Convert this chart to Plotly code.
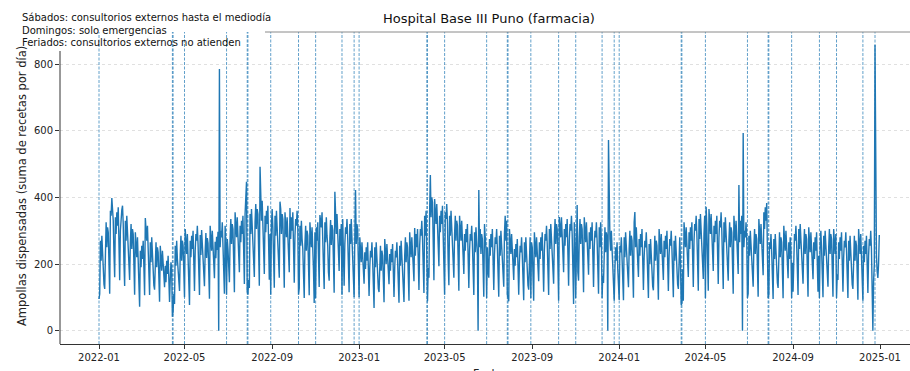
import pandas as pd
import plotly.graph_objects as go

# ---- data ----
start_date = "2022-01-01"
end_date = "2024-12-31"

# daily values: Jan 1-2 2022, then weeks Mon..Sun, then Dec 30-31 2024
values = [
    95, 110,
    # 2022
    270, 210, 285, 230, 200, 139, 125,
    270, 325, 250, 310, 295, 214, 111,
    360, 345, 398, 370, 330, 231, 160,
    340, 290, 355, 315, 370, 240, 151,
    300, 350, 362, 375, 320, 204, 134,
    330, 270, 345, 290, 260, 178, 152,
    265, 320, 245, 305, 290, 210, 108,
    295, 255, 220, 280, 225, 120, 72,
    240, 190, 255, 215, 270, 188, 106,
    338, 290, 270, 315, 260, 166, 107,
    265, 205, 280, 225, 195, 136, 123,
    210, 265, 190, 250, 235, 175, 87,
    255, 215, 180, 240, 185, 137, 130,
    195, 145, 210, 170, 225, 159, 86,
    155, 205, 185, 42, 58, 110, 80,
    255, 195, 270, 215, 185, 130, 119,
    230, 285, 210, 270, 255, 188, 100,
    305, 265, 230, 290, 235, 169, 77,
    270, 220, 285, 245, 300, 207, 119,
    240, 290, 270, 315, 260, 166, 107,
    287, 227, 302, 247, 217, 150, 133,
    238, 293, 218, 278, 263, 193, 96,
    315, 275, 240, 300, 245, 176, 157,
    267, 217, 282, 242, 297, 0, 785,
    250, 300, 280, 325, 270, 172, 111,
    315, 255, 108, 275, 245, 169, 145,
    280, 335, 260, 320, 305, 220, 115,
    355, 315, 280, 340, 285, 202, 175,
    315, 265, 330, 290, 345, 237, 140,
    350, 400, 447, 118, 108, 152, 128,
    350, 290, 365, 310, 280, 191, 161,
    325, 380, 305, 365, 350, 249, 135,
    492, 365, 330, 390, 335, 234, 170,
    345, 295, 360, 320, 375, 256, 153,
    290, 108, 320, 365, 310, 198, 129,
    345, 285, 360, 305, 275, 188, 159,
    387, 365, 290, 350, 335, 240, 129,
    355, 315, 280, 340, 285, 202, 175,
    368, 275, 340, 300, 355, 243, 144,
    285, 335, 315, 360, 305, 108, 127,
    315, 255, 330, 275, 245, 169, 98,
    260, 315, 240, 300, 285, 207, 106,
    325, 285, 250, 310, 255, 182, 83,
    295, 98, 310, 270, 325, 224, 131,
    347, 330, 310, 355, 300, 192, 125,
    325, 265, 340, 285, 255, 175, 150,
    277, 332, 257, 317, 302, 218, 114,
    417, 325, 290, 350, 295, 208, 179,
    305, 255, 320, 108, 335, 230, 135,
    260, 310, 290, 335, 280, 179, 115,
    320, 260, 335, 280, 250, 172, 100,
    280, 422, 260, 320, 305, 220, 100,
    # 2023
    280, 240, 205, 265, 210, 153, 141,
    235, 185, 250, 210, 265, 185, 104,
    190, 240, 220, 265, 210, 92, 68,
    250, 190, 265, 210, 180, 126, 116,
    200, 255, 180, 240, 225, 168, 85,
    275, 235, 200, 260, 205, 150, 139,
    230, 180, 245, 205, 260, 181, 101,
    190, 240, 220, 265, 210, 133, 84,
    255, 195, 270, 215, 185, 120, 86,
    225, 280, 205, 265, 250, 184, 90,
    295, 255, 220, 280, 225, 163, 148,
    308, 225, 290, 250, 305, 211, 122,
    255, 305, 285, 330, 275, 175, 113,
    345, 285, 360, 98, 88, 188, 159,
    360, 467, 340, 400, 385, 272, 151,
    395, 355, 320, 380, 325, 228, 193,
    345, 295, 360, 320, 375, 256, 153,
    108, 355, 335, 380, 325, 208, 136,
    345, 285, 360, 305, 275, 188, 159,
    290, 345, 270, 330, 315, 227, 120,
    345, 305, 270, 330, 275, 195, 170,
    290, 240, 305, 265, 320, 220, 128,
    240, 290, 270, 315, 260, 166, 107,
    295, 235, 310, 255, 225, 0, 422,
    250, 305, 230, 290, 275, 201, 102,
    320, 280, 245, 98, 250, 179, 159,
    275, 225, 290, 250, 305, 211, 122,
    230, 280, 260, 305, 250, 159, 102,
    285, 225, 300, 245, 215, 149, 132,
    290, 345, 270, 330, 108, 98, 88,
    305, 265, 230, 290, 235, 169, 152,
    245, 195, 260, 220, 275, 191, 108,
    205, 255, 235, 280, 225, 143, 91,
    265, 205, 280, 225, 195, 136, 123,
    225, 280, 98, 265, 250, 184, 90,
    295, 255, 220, 280, 225, 163, 148,
    265, 215, 280, 240, 295, 204, 117,
    240, 290, 270, 315, 260, 166, 107,
    305, 245, 320, 265, 235, 162, 141,
    280, 335, 260, 320, 305, 220, 90,
    341, 315, 280, 340, 285, 202, 175,
    305, 255, 320, 280, 335, 230, 135,
    270, 320, 300, 345, 290, 185, 80,
    325, 265, 98, 285, 377, 175, 150,
    280, 335, 260, 320, 305, 220, 115,
    340, 300, 265, 325, 270, 192, 168,
    295, 245, 310, 270, 325, 224, 131,
    250, 300, 280, 325, 270, 172, 111,
    310, 250, 325, 270, 98, 165, 143,
    255, 310, 235, 295, 280, 0, 572,
    315, 275, 240, 300, 245, 176, 157,
    90, 185, 250, 210, 265, 185, 104,
    # 2024
    92, 255, 235, 280, 225, 143, 91,
    280, 220, 295, 240, 210, 146, 130,
    245, 300, 225, 285, 270, 197, 99,
    325, 356, 250, 310, 255, 182, 161,
    275, 225, 290, 250, 305, 211, 122,
    220, 270, 250, 295, 240, 153, 98,
    260, 200, 275, 220, 190, 133, 121,
    230, 285, 210, 270, 255, 188, 93,
    305, 265, 230, 290, 235, 169, 152,
    270, 220, 285, 245, 300, 207, 119,
    225, 275, 255, 300, 245, 156, 100,
    270, 210, 285, 230, 200, 139, 125,
    225, 280, 205, 77, 82, 184, 90,
    325, 285, 250, 310, 255, 182, 161,
    295, 245, 310, 270, 325, 224, 131,
    270, 320, 300, 345, 290, 185, 120,
    335, 275, 350, 295, 265, 182, 155,
    290, 345, 98, 372, 315, 227, 120,
    365, 325, 290, 350, 295, 208, 179,
    315, 265, 330, 290, 345, 237, 140,
    280, 330, 310, 355, 300, 192, 125,
    325, 265, 340, 285, 255, 175, 150,
    270, 325, 250, 310, 295, 214, 111,
    345, 305, 270, 330, 275, 195, 170,
    437, 265, 330, 290, 345, 0, 593,
    250, 300, 280, 325, 270, 98, 111,
    285, 225, 300, 245, 215, 149, 132,
    250, 305, 230, 290, 275, 201, 102,
    335, 295, 260, 320, 265, 189, 166,
    355, 305, 370, 330, 383, 260, 98,
    108, 265, 245, 290, 235, 149, 95,
    275, 215, 290, 235, 205, 143, 128,
    240, 295, 220, 280, 265, 194, 97,
    315, 275, 240, 300, 245, 176, 157,
    265, 215, 280, 240, 98, 204, 117,
    240, 290, 270, 315, 260, 166, 107,
    305, 245, 320, 265, 235, 162, 141,
    250, 305, 230, 290, 275, 201, 102,
    310, 270, 235, 295, 240, 172, 154,
    265, 215, 280, 240, 295, 204, 117,
    225, 98, 255, 300, 245, 156, 100,
    285, 225, 300, 245, 215, 149, 132,
    250, 305, 230, 290, 275, 201, 102,
    305, 265, 230, 290, 98, 169, 152,
    265, 215, 280, 240, 295, 204, 117,
    220, 270, 250, 295, 240, 153, 98,
    270, 210, 285, 230, 200, 139, 125,
    230, 285, 210, 270, 255, 188, 93,
    305, 265, 230, 290, 235, 169, 90,
    255, 205, 270, 230, 285, 198, 113,
    225, 275, 255, 300, 245, 0, 0,
    148, 198, 857, 262, 228, 178, 158,
    200, 287,
]

holidays = [
    "2022-01-01", "2022-04-14", "2022-04-15", "2022-05-01", "2022-06-29",
    "2022-07-28", "2022-07-29", "2022-08-30", "2022-10-08", "2022-11-01",
    "2022-12-08", "2022-12-25",
    "2023-01-01", "2023-04-06", "2023-04-07", "2023-05-01", "2023-06-29",
    "2023-07-28", "2023-07-29", "2023-08-30", "2023-10-08", "2023-11-01",
    "2023-12-08", "2023-12-25",
    "2024-01-01", "2024-03-28", "2024-03-29", "2024-05-01", "2024-06-29",
    "2024-07-28", "2024-07-29", "2024-08-30", "2024-10-08", "2024-11-01",
    "2024-12-08", "2024-12-25",
]

y_ticks = [0, 200, 400, 600, 800]
x_ticks = ["2022-01-01", "2022-05-01", "2022-09-01", "2023-01-01", "2023-05-01",
           "2023-09-01", "2024-01-01", "2024-05-01", "2024-09-01", "2025-01-01"]
x_tick_labels = [t[:7] for t in x_ticks]

title = "Hospital Base III Puno (farmacia)"
notes = [
    "Sábados: consultorios externos hasta el mediodía",
    "Domingos: solo emergencias",
    "Feriados: consultorios externos no atienden",
]
y_title = "Ampollas dispensadas (suma de recetas por día)"
x_title = "Fecha"

dates = pd.date_range(start_date, end_date, freq="D")
assert len(dates) == len(values), (len(dates), len(values))

# ---- layout geometry (pixels) ----
W, H = 910, 371
L, R, T, B = 60, 0, 32, 27
pw, ph = W - L - R, H - T - B

def px_x(p):
    return (p - L) / pw

def px_y(p):
    return (H - B - p) / ph

FONT = "DejaVu Sans"
BLUE = "#1f77b4"

x0 = pd.Timestamp(start_date)
days_per_px = 1096 / 781.0
x_range = [x0 - pd.Timedelta(days=(99 - L) * days_per_px),
           x0 + pd.Timedelta(days=(W - 99) * days_per_px)]

fig = go.Figure()
fig.add_trace(go.Scatter(x=dates, y=values, mode="lines",
                         line=dict(color=BLUE, width=1.4), showlegend=False))

shapes = []
for h in holidays:
    shapes.append(dict(type="line", xref="x", yref="paper", x0=h, x1=h, y0=0, y1=1,
                       line=dict(color="rgba(31,119,180,0.7)", width=1, dash="3px,1.5px"),
                       layer="above"))
# spines
shapes.append(dict(type="line", xref="paper", yref="paper", x0=px_x(265), x1=1, y0=1, y1=1,
                   line=dict(color="#8a8a8a", width=1), layer="above"))
shapes.append(dict(type="line", xref="paper", yref="paper", x0=0, x1=0, y0=0, y1=px_y(51),
                   line=dict(color="#333333", width=1), layer="above"))

annotations = [
    dict(text=title, x=px_x(489), y=px_y(19), xref="paper", yref="paper",
         showarrow=False, xanchor="center", yanchor="middle",
         font=dict(family=FONT, size=13, color="#111111")),
    dict(text=y_title, x=px_x(22), y=px_y(186), xref="paper", yref="paper",
         showarrow=False, xanchor="center", yanchor="middle", textangle=-90,
         font=dict(family=FONT, size=11.5, color="#222222")),
    dict(text=x_title, x=px_x(489), y=px_y(365), xref="paper", yref="paper",
         showarrow=False, xanchor="center", yanchor="top",
         font=dict(family=FONT, size=11, color="#222222")),
]
for i, n in enumerate(notes):
    annotations.append(dict(text=n, x=px_x(20), y=px_y(18 + 12 * i), xref="paper", yref="paper",
                            showarrow=False, xanchor="left", yanchor="middle",
                            font=dict(family=FONT, size=10, color="#111111")))

fig.update_layout(
    width=W, height=H,
    margin=dict(l=L, r=R, t=T, b=B, pad=0),
    paper_bgcolor="white", plot_bgcolor="white",
    shapes=shapes, annotations=annotations,
    xaxis=dict(type="date", range=x_range, tickmode="array", tickvals=x_ticks,
               ticktext=x_tick_labels, ticks="outside", ticklen=4, tickcolor="#333333",
               showgrid=False, showline=True, linecolor="#333333", linewidth=1,
               zeroline=False, tickfont=dict(family=FONT, size=10, color="#222222")),
    yaxis=dict(range=[-40, 896], tickmode="array", tickvals=y_ticks,
               ticks="outside", ticklen=4, tickcolor="#333333",
               showgrid=True, gridcolor="#e0e0e0", griddash="dot", gridwidth=1,
               showline=False, zeroline=False,
               tickfont=dict(family=FONT, size=10, color="#222222")),
)

fig.write_html("out.html")
